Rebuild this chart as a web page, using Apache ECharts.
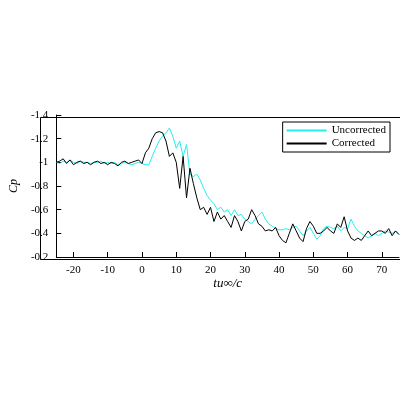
<!DOCTYPE html><html><head><meta charset="utf-8"><script src="https://cdn.jsdelivr.net/npm/echarts@6/dist/echarts.min.js"></script></head><body style="margin:0;background:#fff"><div id="c" style="width:400px;height:400px"></div><script>
const xs=[];for(let i=-25;i<=75;i++)xs.push(i);
const xTicks=[-20,-10,0,10,20,30,40,50,60,70];
const uncorrected=[-1.0,-0.99,-1.01,-1.0,-1.02,-1.0,-0.99,-1.01,-1.0,-1.0,-0.99,-1.0,-1.0,-1.01,-0.99,-1.0,-0.99,-1.0,-0.98,-0.99,-1.0,-0.99,-0.98,-0.99,-1.0,-0.99,
-0.98,-0.98,-1.05,-1.12,-1.18,-1.22,-1.25,-1.29,-1.22,-1.12,-1.18,-1.05,-1.15,-0.9,-0.88,-0.9,-0.85,-0.78,-0.72,-0.68,-0.65,-0.6,-0.62,-0.58,-0.6,-0.55,-0.6,-0.55,-0.56,-0.52,-0.5,-0.48,-0.52,-0.55,-0.58,-0.52,-0.48,-0.46,-0.44,-0.43,-0.43,-0.44,-0.43,-0.45,-0.46,-0.42,-0.38,-0.42,-0.45,-0.4,-0.35,-0.38,-0.44,-0.46,-0.45,-0.44,-0.46,-0.42,-0.45,-0.44,-0.52,-0.46,-0.42,-0.4,-0.38,-0.36,-0.38,-0.4,-0.38,-0.4,-0.42,-0.41,-0.4,-0.42,-0.39];
const corrected=[-1.0,-1.01,-1.03,-0.99,-1.02,-0.98,-1.0,-1.01,-0.99,-1.0,-0.98,-1.0,-1.01,-0.99,-1.0,-0.98,-1.0,-0.99,-0.97,-1.0,-1.01,-0.99,-1.0,-1.01,-1.02,-0.99,
-1.08,-1.12,-1.2,-1.25,-1.26,-1.25,-1.18,-1.05,-1.08,-1.0,-0.78,-1.05,-0.7,-0.95,-0.82,-0.7,-0.6,-0.62,-0.56,-0.62,-0.5,-0.58,-0.52,-0.55,-0.5,-0.45,-0.55,-0.5,-0.42,-0.5,-0.52,-0.6,-0.55,-0.48,-0.46,-0.42,-0.43,-0.42,-0.45,-0.38,-0.34,-0.32,-0.4,-0.48,-0.42,-0.36,-0.33,-0.44,-0.5,-0.46,-0.4,-0.4,-0.42,-0.45,-0.42,-0.4,-0.48,-0.45,-0.54,-0.42,-0.36,-0.34,-0.36,-0.34,-0.38,-0.42,-0.38,-0.4,-0.42,-0.42,-0.4,-0.44,-0.38,-0.42,-0.39];
const f='Liberation Serif';
const c=echarts.init(document.getElementById('c'));
c.setOption({animation:false,textStyle:{fontFamily:f},
grid:{left:38,right:1,top:115,bottom:143},
legend:{right:10,top:122,orient:'vertical',backgroundColor:'#fff',borderColor:'#000',borderWidth:1,borderRadius:0,padding:[3,4],itemGap:2,itemWidth:40,itemHeight:2,icon:'rect',textStyle:{fontFamily:f,fontSize:11,color:'#000'},data:['Uncorrected','Corrected']},
xAxis:{type:'value',min:-25,max:75,name:'tu∞/c',nameLocation:'middle',nameGap:20,nameTextStyle:{fontFamily:f,fontStyle:'italic',fontSize:13,color:'#000'},
axisLine:{onZero:false,lineStyle:{color:'#000'}},axisTick:{inside:true,customValues:xTicks},axisLabel:{color:'#000',fontSize:11,fontFamily:f,customValues:xTicks},splitLine:{show:false}},
yAxis:{type:'value',inverse:true,min:-1.4,max:-0.2,interval:0.2,name:'Cp',nameLocation:'middle',nameGap:26,nameTextStyle:{fontFamily:f,fontStyle:'italic',fontSize:12,color:'#000'},
axisLine:{show:true,onZero:false,lineStyle:{color:'#000'}},axisTick:{inside:true},axisLabel:{color:'#000',fontSize:11,fontFamily:f,formatter:v=>String(+v.toFixed(1))},splitLine:{show:false}},
series:[
{name:'Uncorrected',type:'line',data:xs.map((x,i)=>[x,uncorrected[i]]),showSymbol:false,lineStyle:{color:'#22eeee',width:1},itemStyle:{color:'#22eeee'}},
{name:'Corrected',type:'line',data:xs.map((x,i)=>[x,corrected[i]]),showSymbol:false,lineStyle:{color:'#000',width:1},itemStyle:{color:'#000'}}
],
graphic:[{type:'rect',left:38,top:115,shape:{width:361,height:142},style:{fill:'none',stroke:'#000',lineWidth:1},silent:true}]
});
</script></body></html>
